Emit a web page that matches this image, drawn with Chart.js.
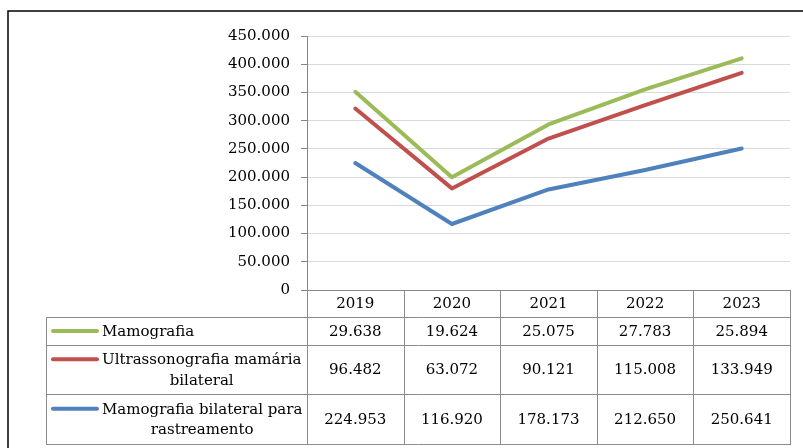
<!DOCTYPE html>
<html>
<head>
<meta charset="utf-8">
<script src="https://cdn.jsdelivr.net/npm/chart.js@4"></script>
<style>
  body { margin: 0; background: #fff; }
  #wrap { position: relative; width: 803px; height: 448px; }
</style>
</head>
<body>
<div id="wrap"><canvas id="chart"></canvas></div>
<script>
const years = ["2019", "2020", "2021", "2022", "2023"];
const seriesNames = ["Mamografia", "Ultrassonografia mamária bilateral", "Mamografia bilateral para rastreamento"];
const mamografia = [29638, 19624, 25075, 27783, 25894];
const ultrassonografia = [96482, 63072, 90121, 115008, 133949];
const rastreamento = [224953, 116920, 178173, 212650, 250641];
const seriesColors = ["#9BBB59", "#C0504D", "#4F81BD"];
const yTicks = [0, 50000, 100000, 150000, 200000, 250000, 300000, 350000, 400000, 450000];

const FONT = '15px "DejaVu Serif"';
const fmt = v => String(v).replace(/\B(?=(\d{3})+(?!\d))/g, ".");

// excel style stacked lines: bottom series first
const tableRows = [
    { name: seriesNames[0], data: mamografia, color: seriesColors[0] },
    { name: seriesNames[1], data: ultrassonografia, color: seriesColors[1] },
    { name: seriesNames[2], data: rastreamento, color: seriesColors[2] },
];

function wrap(ctx, text, maxW) {
    const words = text.split(" ");
    const lines = [];
    let cur = "";
    words.forEach(w => {
        const t = cur ? cur + " " + w : w;
        if (ctx.measureText(t).width > maxW && cur) {
            lines.push(cur);
            cur = w;
        } else cur = t;
    });
    lines.push(cur);
    return lines;
}

const dataTable = {
    id: "dataTable",
    afterDraw(chart) {
        const { ctx, chartArea, scales } = chart;
        const x = scales.x;
        const colW = x.getPixelForValue(1) - x.getPixelForValue(0);
        const edges = years.map((y, i) => x.getPixelForValue(i) - colW / 2);
        edges.push(x.getPixelForValue(years.length - 1) + colW / 2);
        const tableLeft = 46;
        const top = chartArea.bottom;
        const rowH = [27, 28, 49, 50];
        const rowY = [top];
        rowH.forEach(h => rowY.push(rowY[rowY.length - 1] + h));

        ctx.save();
        // grid of the table
        ctx.strokeStyle = "#8c8c8c";
        ctx.lineWidth = 1;
        ctx.beginPath();
        edges.forEach(e => {
            ctx.moveTo(Math.round(e) + 0.5, top);
            ctx.lineTo(Math.round(e) + 0.5, rowY[4]);
        });
        ctx.moveTo(tableLeft + 0.5, rowY[1]);
        ctx.lineTo(tableLeft + 0.5, rowY[4]);
        for (let r = 1; r <= 4; r++) {
            ctx.moveTo(tableLeft, Math.round(rowY[r]) + 0.5);
            ctx.lineTo(edges[edges.length - 1] + 1, Math.round(rowY[r]) + 0.5);
        }
        ctx.stroke();

        ctx.font = FONT;
        ctx.fillStyle = "#000";
        ctx.textBaseline = "middle";
        ctx.textAlign = "center";
        years.forEach((y, i) => ctx.fillText(y, x.getPixelForValue(i), top + rowH[0] / 2 + 1));

        tableRows.forEach((row, r) => {
            const y0 = rowY[r + 1], y1 = rowY[r + 2];
            const mid = (y0 + y1) / 2;
            row.data.forEach((v, i) => {
                ctx.textAlign = "center";
                ctx.fillText(fmt(v), x.getPixelForValue(i), mid + 1);
            });
            const lines = wrap(ctx, row.name, 204);
            const lh = 20.5;
            const firstY = mid - (lines.length - 1) * lh / 2;
            const blockW = Math.max(...lines.map(l => ctx.measureText(l).width));
            lines.forEach((l, k) => {
                ctx.textAlign = "center";
                ctx.fillText(l, 102 + blockW / 2, firstY + k * lh + 1);
            });
            ctx.strokeStyle = row.color;
            ctx.lineWidth = 4;
            ctx.lineCap = "round";
            ctx.beginPath();
            ctx.moveTo(53, firstY);
            ctx.lineTo(97, firstY);
            ctx.stroke();
        });

        // outer frame
        ctx.strokeStyle = "#000";
        ctx.lineWidth = 1.5;
        ctx.strokeRect(8, 11, 820, 500);
        ctx.restore();
    }
};

const chartEl = document.getElementById("chart");
new Chart(chartEl, {
    type: "line",
    data: {
        labels: years,
        datasets: tableRows.slice().reverse().map(row => ({
            label: row.name,
            data: row.data,
            borderColor: row.color,
            backgroundColor: row.color,
            borderWidth: 4,
            borderCapStyle: "round",
            borderJoinStyle: "round",
            pointRadius: 0,
            fill: false,
            tension: 0,
        })),
    },
    options: {
        responsive: true,
        maintainAspectRatio: false,
        animation: false,
        layout: {
            padding: { left: 0, top: 36, right: 13, bottom: 158 },
        },
        plugins: {
            legend: { display: false },
            tooltip: { enabled: false },
        },
        scales: {
            x: {
                display: false,
                offset: true,
            },
            y: {
                stacked: true,
                min: 0,
                max: 450000,
                afterFit: s => { s.width = 307; },
                afterBuildTicks: s => { s.ticks = yTicks.map(v => ({ value: v })); },
                border: { color: "#868686", width: 1 },
                grid: {
                    color: c => (c.tick && c.tick.value === 0 ? "#868686" : "#d9d9d9"),
                    tickColor: "#868686",
                    tickLength: 6,
                    lineWidth: 1,
                },
                ticks: {
                    padding: 11,
                    color: "#000",
                    font: { family: "DejaVu Serif", size: 15 },
                    callback: v => fmt(v),
                },
            },
        },
    },
    plugins: [dataTable],
});
</script>
</body>
</html>
